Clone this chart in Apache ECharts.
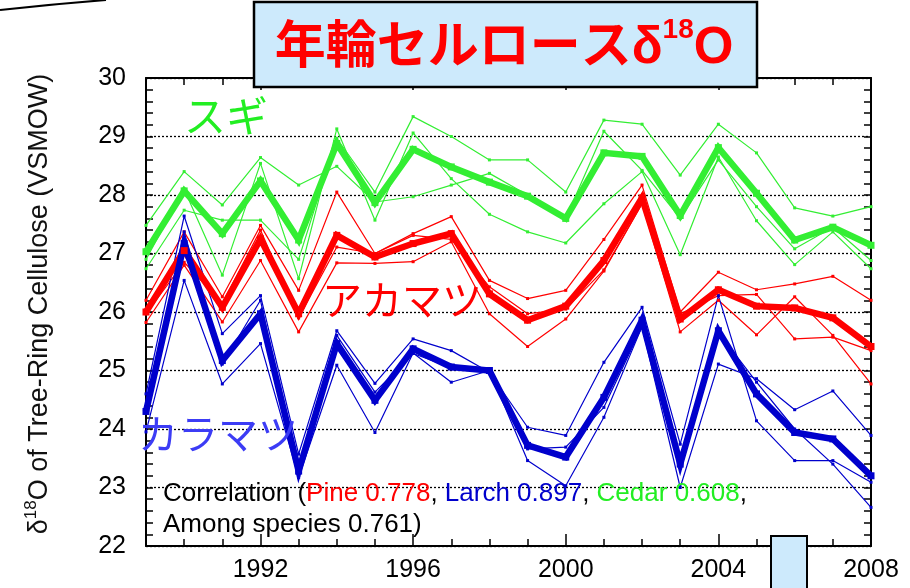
<!DOCTYPE html>
<html>
<head>
<meta charset="utf-8">
<script src="https://cdn.jsdelivr.net/npm/echarts@6/dist/echarts.min.js"></script>
<style>
html,body{margin:0;padding:0;background:#fff;}
#chart{width:910px;height:588px;}
</style>
</head>
<body>
<div id="chart"></div>
<script>
const years = [1989,1990,1991,1992,1993,1994,1995,1996,1997,1998,1999,2000,2001,2002,2003,2004,2005,2006,2007,2008];
const xMajorYears = [1992, 1996, 2000, 2004, 2008];

// Cedar (スギ)
const cedarMean = [27.03,28.07,27.34,28.24,27.23,28.88,27.87,28.78,28.48,28.22,27.98,27.60,28.72,28.66,27.65,28.81,28.03,27.23,27.45,27.14];
const cedarTree1 = [27.48,28.40,27.83,28.64,28.17,28.49,27.88,27.97,28.17,28.37,28.00,27.60,29.09,28.42,27.60,28.60,27.80,27.08,27.45,26.88];
const cedarTree2 = [26.74,27.74,27.57,27.57,26.90,28.97,28.05,29.34,29.00,28.60,28.60,28.05,29.28,29.21,28.34,29.21,28.72,27.78,27.64,27.80];
const cedarTree3 = [26.90,28.10,26.63,28.54,26.57,29.13,27.57,29.06,28.28,27.67,27.37,27.18,27.85,28.40,26.98,28.65,27.56,26.81,27.37,26.74];

// Pine (アカマツ)
const pineMean = [26.00,27.05,26.08,27.25,25.97,27.31,26.94,27.17,27.34,26.31,25.86,26.10,26.88,27.95,25.88,26.38,26.10,26.07,25.90,25.41];
const pineTree1 = [26.20,27.37,26.26,27.48,26.37,28.05,27.00,27.34,27.63,26.54,26.23,26.37,27.24,28.17,26.00,26.68,26.38,26.48,26.61,26.20];
const pineTree2 = [25.97,26.85,26.15,27.40,25.90,27.11,27.00,27.31,27.24,26.43,25.97,26.05,26.72,27.85,25.97,26.28,26.30,25.54,25.57,25.34];
const pineTree3 = [25.82,26.80,25.83,26.88,25.66,26.84,26.83,26.86,27.20,25.97,25.41,25.88,26.70,27.85,25.66,26.20,25.61,26.26,25.60,24.77];

// Larch (カラマツ)
const larchMean = [24.30,27.17,25.17,25.97,23.28,25.46,24.49,25.37,25.06,25.00,23.72,23.52,24.54,25.86,23.40,25.68,24.60,23.94,23.83,23.20];
const larchTree1 = [24.60,27.64,25.63,26.28,23.57,25.68,24.78,25.54,25.34,24.97,24.03,23.89,25.14,26.08,23.74,26.28,24.14,23.46,23.46,23.09];
const larchTree2 = [24.30,27.37,25.11,26.20,23.20,25.60,24.63,25.29,25.05,25.02,23.66,23.69,24.37,25.75,23.45,25.65,24.80,24.00,23.40,22.66];
const larchTree3 = [23.95,26.54,24.77,25.46,23.17,25.09,23.94,25.30,24.80,25.00,23.46,23.03,24.20,25.75,23.00,25.11,24.86,24.33,24.65,23.89];

const GREEN = '#33ee33', RED = '#ff0000', BLUE = '#0000cc';
const FONT = '"Liberation Sans", Arial, sans-serif';
const JP = '"Noto Sans CJK JP", sans-serif';

function thin(data, color) {
  return { type: 'line', data: data, xAxisIndex: 0, yAxisIndex: 0, symbol: 'rect', symbolSize: 3,
    lineStyle: { width: 1.2, color: color }, itemStyle: { color: color }, silent: true, z: 2 };
}
function thick(data, color) {
  return { type: 'line', data: data, xAxisIndex: 0, yAxisIndex: 0, symbol: 'rect', symbolSize: 7,
    lineStyle: { width: 6.5, color: color, join: 'miter', miterLimit: 10 }, itemStyle: { color: color }, silent: true, z: 3 };
}
const isMajor = (i, v) => xMajorYears.indexOf(+v) >= 0;
const axisLine = { show: true, onZero: false, lineStyle: { color: '#000', width: 2 } };

const chart = echarts.init(document.getElementById('chart'), null, { renderer: 'canvas' });
chart.setOption({
  animation: false,
  backgroundColor: '#fff',
  grid: { left: 146, right: 39, top: 78, bottom: 42, containLabel: false },
  xAxis: [
    { type: 'category', data: years, boundaryGap: false, position: 'bottom', axisLine: axisLine,
      axisTick: { show: true, inside: true, length: 7, interval: 0, lineStyle: { color: '#000', width: 1.5 } },
      axisLabel: { interval: isMajor, fontSize: 25, color: '#000', fontFamily: FONT, margin: 12 },
      splitLine: { show: false } },
    { type: 'category', data: years, boundaryGap: false, position: 'bottom', axisLine: { show: false },
      axisTick: { show: true, inside: true, length: 12, interval: isMajor, lineStyle: { color: '#000', width: 1.5 } },
      axisLabel: { show: false }, splitLine: { show: false } },
    { type: 'category', data: years, boundaryGap: false, position: 'top', axisLine: axisLine,
      axisTick: { show: true, inside: true, length: 7, interval: 0, lineStyle: { color: '#000', width: 1.5 } },
      axisLabel: { show: false }, splitLine: { show: false } },
    { type: 'category', data: years, boundaryGap: false, position: 'top', axisLine: { show: false },
      axisTick: { show: true, inside: true, length: 12, interval: isMajor, lineStyle: { color: '#000', width: 1.5 } },
      axisLabel: { show: false }, splitLine: { show: false } }
  ],
  yAxis: [
    { type: 'value', min: 22, max: 30, interval: 1, position: 'left', axisLine: axisLine,
      axisTick: { show: true, inside: true, length: 7, lineStyle: { color: '#000', width: 1.5 } },
      minorTick: { show: true, splitNumber: 5, length: 7, lineStyle: { color: '#000', width: 1.5 } },
      axisLabel: { fontSize: 25, color: '#000', fontFamily: FONT, margin: 20 },
      splitLine: { show: true, lineStyle: { color: '#000', type: [2, 2], width: 1.3 } } },
    { type: 'value', min: 22, max: 30, interval: 1, position: 'right', axisLine: axisLine,
      axisTick: { show: true, inside: true, length: 7, lineStyle: { color: '#000', width: 1.5 } },
      minorTick: { show: true, splitNumber: 5, length: 7, lineStyle: { color: '#000', width: 1.5 } },
      axisLabel: { show: false }, splitLine: { show: false } }
  ],
  series: [
    thin(pineTree1, RED), thin(pineTree2, RED), thin(pineTree3, RED),
    thin(cedarTree1, GREEN), thin(cedarTree2, GREEN), thin(cedarTree3, GREEN),
    thin(larchTree1, BLUE), thin(larchTree2, BLUE), thin(larchTree3, BLUE),
    thick(cedarMean, GREEN), thick(pineMean, RED), thick(larchMean, BLUE)
  ],
  graphic: [
    { type: 'bezierCurve', shape: { x1: 0, y1: 10, x2: 106, y2: 0, cpx1: 45, cpy1: 5, cpx2: 80, cpy2: 2 },
      style: { stroke: '#000', lineWidth: 2, fill: null }, z: 100 },
    { type: 'text', x: 38, y: 304, rotation: Math.PI / 2, z: 100,
      style: { text: '{a|δ}{s|18}{a|O of Tree-Ring Cellulose (VSMOW)}', align: 'center', verticalAlign: 'middle',
        rich: { a: { fontSize: 27, fontFamily: FONT, fill: '#111', lineHeight: 31, verticalAlign: 'bottom' },
                s: { fontSize: 17, fontFamily: FONT, fill: '#111', lineHeight: 18, verticalAlign: 'top' } } } },
    { type: 'rect', shape: { x: 254, y: 2, width: 503, height: 85 }, z: 100,
      style: { fill: '#cdeafc', stroke: '#000', lineWidth: 2.5 } },
    { type: 'text', x: 504, y: 45, z: 101,
      style: { text: '{a|年輪セルロースδ}{s|18}{a|O}', align: 'center', verticalAlign: 'middle',
        rich: { a: { fontSize: 51, fontWeight: 'bold', fontFamily: '"Liberation Sans", "Noto Sans CJK JP", sans-serif', fill: '#ff0000', lineHeight: 58, verticalAlign: 'bottom' },
                s: { fontSize: 28, fontWeight: 'bold', fontFamily: FONT, fill: '#ff0000', lineHeight: 34, verticalAlign: 'top' } } } },
    { type: 'rect', shape: { x: 771, y: 536, width: 36, height: 60 }, z: 100,
      style: { fill: '#cdeafc', stroke: '#000', lineWidth: 2 } },
    { type: 'text', x: 226, y: 116, z: 100,
      style: { text: 'スギ', align: 'center', verticalAlign: 'middle', fontSize: 42, fontFamily: JP, fill: '#22ee22' } },
    { type: 'text', x: 402, y: 300, z: 100,
      style: { text: 'アカマツ', align: 'center', verticalAlign: 'middle', fontSize: 40, fontFamily: JP, fill: '#ff0000' } },
    { type: 'text', x: 218, y: 434, z: 100,
      style: { text: 'カラマツ', align: 'center', verticalAlign: 'middle', fontSize: 40, fontFamily: JP, fill: '#3c3cf5' } },
    { type: 'text', x: 163, y: 509, z: 100,
      style: { text: '{k|Correlation (}{r|Pine 0.778}{k|, }{b|Larch 0.897}{k|, }{g|Cedar 0.608}{k|,}\n{k|Among species 0.761)}',
        align: 'left', verticalAlign: 'middle',
        rich: { k: { fontSize: 26, fontFamily: FONT, fill: '#000', lineHeight: 31 },
                r: { fontSize: 26, fontFamily: FONT, fill: '#ff0000', lineHeight: 31 },
                b: { fontSize: 26, fontFamily: FONT, fill: '#0000cc', lineHeight: 31 },
                g: { fontSize: 26, fontFamily: FONT, fill: '#22ee22', lineHeight: 31 } } } }
  ]
});
</script>
</body>
</html>
